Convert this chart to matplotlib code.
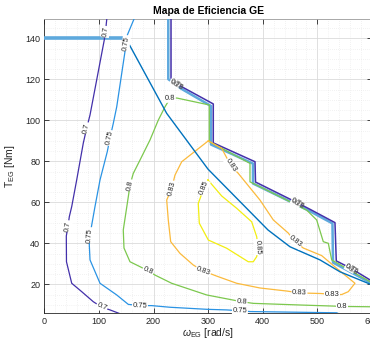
import matplotlib
matplotlib.use('Agg')
import matplotlib.pyplot as plt
from matplotlib.ticker import MultipleLocator

plt.rcParams['font.family'] = ['Liberation Sans', 'DejaVu Sans']
plt.rcParams['mathtext.fontset'] = 'custom'
plt.rcParams['mathtext.rm'] = 'Liberation Sans'
plt.rcParams['mathtext.it'] = 'Liberation Sans:italic'

# ---------------- data (omega [rad/s], T [Nm]) ----------------
c070_w = [115, 112, 109.8, 95.9, 83.7, 77.6, 71.4, 59.3, 50.2, 45.8, 43.4, 40.3, 40.6, 50.2, 68.5, 89.7, 105.1, 120.3, 145]
c070_T = [151, 143.2, 139.2, 119.7, 102.6, 96.2, 88.9, 70.9, 57.9, 53.0, 48.4, 43.6, 31.0, 20.5, 16.4, 11.5, 8.9, 7.5, 5.0]
c070_lbl = [(112, 143.2, 83), (77.6, 96.2, 77), (43.4, 48.4, 82), (105.1, 8.9, -24)]

c075_w = [166, 164.2, 152, 149.6, 147.7, 132.6, 126.3, 120.3, 115.3, 102, 92.8, 86.8, 83.7, 82.4, 83.7, 102, 132.6, 153.8,
          175.2, 196.6, 230.1, 297.3, 333.9, 358.3, 377.2, 535.3, 545]
c075_T = [152, 149.4, 141.6, 137.7, 133.5, 106.6, 98.5, 91.4, 84.7, 70.9, 57.9, 48.9, 44.0, 39.2, 31.9, 20.5, 14.8, 10.2,
          9.6, 9.6, 8.8, 7.8, 7.5, 7.1, 6.7, 6.1, 5.0]
c075_lbl = [(149.6, 137.7, 82), (120.3, 91.4, 78), (83.7, 44.0, 86), (175.2, 9.6, -3), (358.3, 7.1, -2)]

c080_w = [610, 544.5, 526.2, 468.1, 382.6, 361.4, 346, 297.3, 233.2, 202.7, 189.9, 175.2, 156.9, 145.9, 144.6, 153.8, 156.9,
          162.9, 175.2, 193.5, 208.7, 221, 230.1, 242.4, 302.1, 302.1, 376.6, 376.6, 455.9, 480.4, 498.7, 510.8, 520,
          526.2, 596.3, 610]
c080_T = [9.0, 9.2, 9.4, 9.9, 10.7, 11.5, 12.3, 14.8, 20.5, 24.5, 26.6, 28.6, 31.0, 37.7, 46.5, 62.7, 68.4,
          74.1, 80.6, 90.4, 100.1, 106.6, 110.6, 110.9, 107.5, 89.6, 79.0, 70.0, 59.5, 56.2, 51.4, 40.8, 40.0,
          31.9, 21.3, 20.6]
c080_lbl = [(544.5, 9.2, 0), (361.4, 11.5, -4), (189.9, 26.6, -24), (156.9, 68.4, 79), (230.1, 110.6, 2)]

c083_w = [300.3, 324.8, 341.8, 355.2, 394.9, 419.3, 446.7, 459, 474.2, 507.9, 535.3, 568.8, 556.6, 544.5, 526.7, 506.6,
          467.2, 444.3, 394.9, 352.2, 315.6, 291.1, 272.8, 248.4, 231.4, 227.0, 224.1, 233.2, 239.3, 251.6, 300.3]
c083_T = [90.0, 86.3, 77.9, 74.1, 61.1, 51.4, 45.0, 40.8, 37.7, 34.0, 27.8, 20.5, 16.4, 15.0, 15.1, 15.5,
          15.8, 16.7, 18.2, 20.5, 24.0, 26.5, 29.4, 35.1, 40.8, 51.4, 61.1, 66.8, 73.3, 79.8, 90.0]
c083_lbl = [(341.8, 77.9, -56), (459, 40.8, -38), (526.7, 15.1, 0), (467.2, 15.8, -2), (291.1, 26.5, -20), (233.2, 66.8, 76)]

c085_w = [299.7, 324.8, 352.2, 379.7, 388.9, 391.3, 388.9, 382.6, 373.5, 333.9, 300.3, 283.8, 281.9, 292.4, 299.7]
c085_T = [70.9, 63.1, 57.1, 50.5, 43.2, 38.2, 33.5, 31.0, 31.0, 37.6, 41.6, 49.8, 59.5, 67.0, 70.9]
c085_lbl = [(391.3, 38.2, -86), (292.4, 67.0, 68)]

# torque-limit staircase contours
st070_w = [232, 232, 239.3, 251.6, 309.4, 309.4, 385.8, 386.7, 460.8, 486.4, 532.2, 534.6, 559.9, 596.6, 610]
st070_T = [152, 120.6, 118.2, 116.4, 108, 89, 79.8, 69.9, 60.1, 56.6, 50.1, 31.4, 28, 22.1, 21.3]
st075_w = [227, 227, 250.3, 305.2, 305.2, 382.1, 382.1, 484.6, 527.6, 528.6, 596.3, 610]
st075_T = [152, 120.1, 115.5, 107, 88.2, 78.9, 69.2, 55.9, 49.7, 30.6, 20.9, 20.2]
st_lbl = [(239.3, 118.2, -29), (460.8, 60.1, -27), (559.9, 28.0, -29)]

# optimal line and torque limit
opt_w = [149.6, 224.1, 299.7, 409.6, 449.9, 504.8, 541.4, 596.3, 610]
opt_T = [139.9, 103.4, 76.2, 46.5, 38.3, 31.9, 26.1, 20.1, 19.0]
lim_w = [0, 149.6]
lim_T = [140, 140]

levels = ['0.7', '0.75', '0.8', '0.83', '0.85']
col = {'0.7': '#4330AA', '0.75': '#2A93E4', '0.8': '#7CC84E', '0.83': '#FBBA3C', '0.85': '#F2EE10'}

# ---------------- figure ----------------
fig = plt.figure(figsize=(3.70, 3.41), dpi=100)
ax = fig.add_axes([44.3 / 370, 1 - 313.3 / 341, (372 - 44.3) / 370, (313.3 - 19.3) / 341])
ax.set_xlim(0, 600)
ax.set_ylim(5.85, 149.3)

ax.xaxis.set_major_locator(MultipleLocator(100))
ax.xaxis.set_minor_locator(MultipleLocator(20))
ax.yaxis.set_major_locator(MultipleLocator(20))
ax.yaxis.set_minor_locator(MultipleLocator(5))
ax.set_yticks([20, 40, 60, 80, 100, 120, 140])
ax.grid(True, which='major', color='#DADADA', lw=0.6)
ax.grid(True, which='minor', color='#E6E6E6', lw=0.5, ls=(0, (1, 2)))
ax.set_axisbelow(True)
ax.tick_params(which='both', direction='in', top=True, right=True, colors='#262626', labelsize=6.5, width=0.6)
ax.tick_params(which='major', length=3.5, pad=3)
ax.tick_params(which='minor', length=0)
for s in ax.spines.values():
    s.set_color('#262626')
    s.set_linewidth(0.6)
ax.spines['top'].set_color('#9A9A9A')


def lab(items, txt, color):
    for (w, t, r) in items:
        ax.text(w, t, txt, fontsize=5.5, color='#262626', rotation=r, rotation_mode='anchor',
                ha='center', va='center', zorder=6,
                bbox=dict(boxstyle='square,pad=0.08', fc='white', ec='none'))


lw = 0.9
ax.plot(lim_w, lim_T, color='#5EA9DD', lw=2.6, zorder=3, solid_capstyle='butt')
ax.plot(st075_w, st075_T, color='#5EA9DD', lw=1.8, zorder=3)
ax.plot(st070_w, st070_T, color=col['0.7'], lw=1.1, zorder=3)
ax.plot(c070_w, c070_T, color=col['0.7'], lw=lw, zorder=3)
ax.plot(c075_w, c075_T, color=col['0.75'], lw=lw, zorder=3)
ax.plot(c080_w, c080_T, color=col['0.8'], lw=lw, zorder=3)
ax.plot(c083_w, c083_T, color=col['0.83'], lw=lw, zorder=3)
ax.plot(c085_w, c085_T, color=col['0.85'], lw=lw, zorder=3)
ax.plot(opt_w, opt_T, color='#0072BD', lw=1.0, zorder=4)

lab(c070_lbl, '0.7', col['0.7'])
lab(c075_lbl, '0.75', col['0.75'])
lab(c080_lbl, '0.8', col['0.8'])
lab(c083_lbl, '0.83', col['0.83'])
lab(c085_lbl, '0.85', col['0.85'])
for (w, t, r) in st_lbl:
    for k, txt in enumerate(['0.7', '0.75', '0.8']):
        ax.text(w + 2.5 * k, t - 0.8 * k, txt, fontsize=5.2, color='#555555', rotation=r, rotation_mode='anchor',
                ha='center', va='center', zorder=6,
                bbox=dict(boxstyle='square,pad=0.05', fc='white', ec='none') if k == 0 else None)

ax.set_title('Mapa de Eficiencia GE', fontsize=7.5, fontweight='bold', color='black', pad=4)
ax.set_xlabel(r'$\omega_{\mathregular{EG}}$ [rad/s]', fontsize=7.5, color='#262626', labelpad=0)
ax.set_ylabel(r'$\mathregular{T_{EG}}$ [Nm]', fontsize=7.5, color='#262626', labelpad=6)

fig.savefig('out.png', dpi=100)
